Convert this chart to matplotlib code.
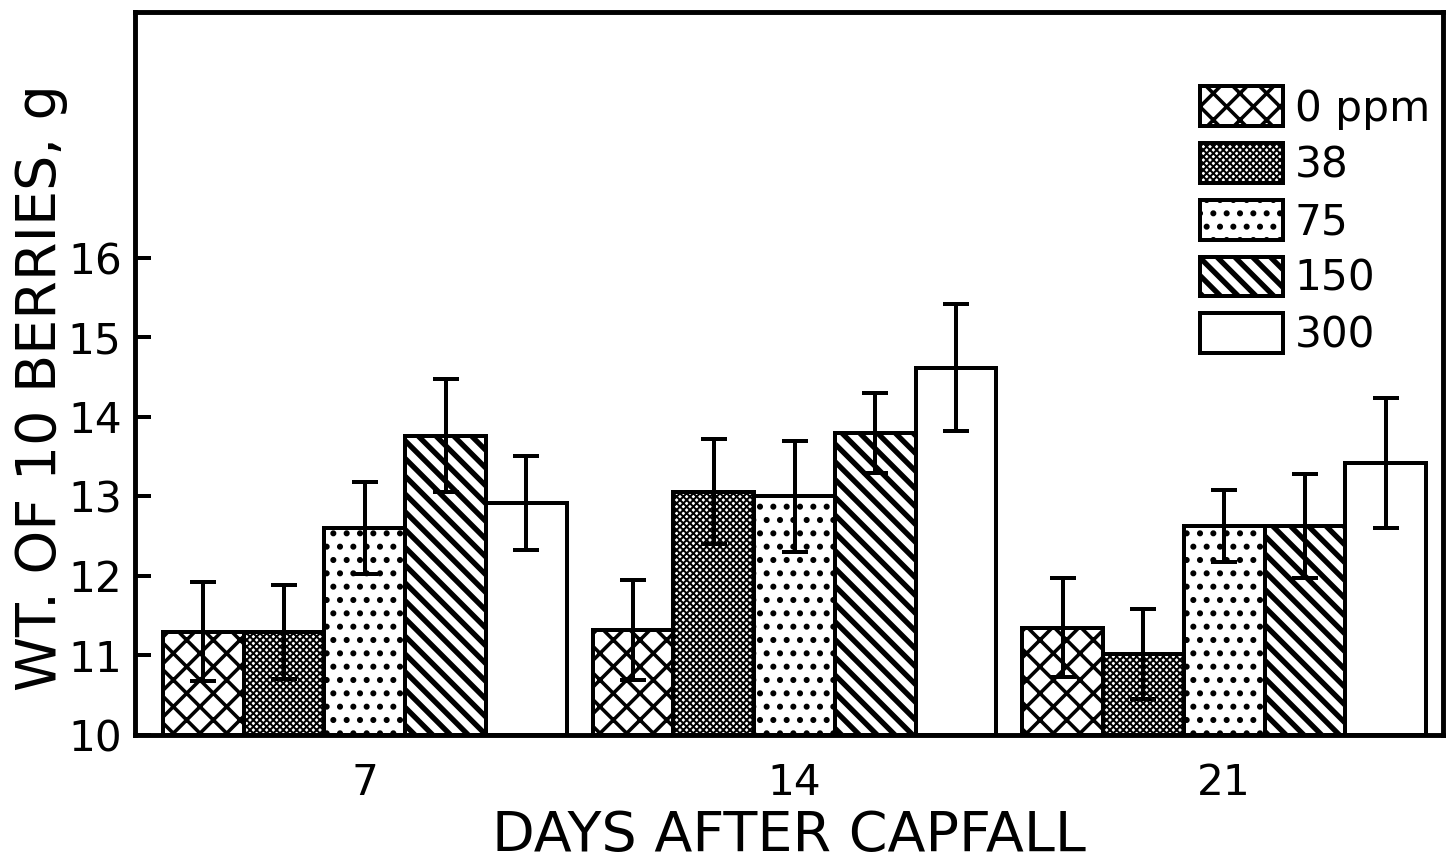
import numpy as np
import matplotlib.pyplot as plt

plt.rcParams['font.family'] = ['DejaVu Sans']

days = ['7', '14', '21']
conc_labels = ['0 ppm', '38', '75', '150', '300']
hatches = ['xx', 'xxxxxxxx', '..', '\\\\\\', '']
hatch_lw = [1.6, 0.9, 1.5, 2.4, 1.0]

# mean weight of 10 berries (g) and error, per concentration, for days 7/14/21
wt_0 = [11.30, 11.32, 11.35]
wt_38 = [11.30, 13.06, 11.02]
wt_75 = [12.60, 13.00, 12.63]
wt_150 = [13.76, 13.80, 12.63]
wt_300 = [12.92, 14.62, 13.42]

err_0 = [0.62, 0.63, 0.62]
err_38 = [0.59, 0.66, 0.57]
err_75 = [0.58, 0.70, 0.45]
err_150 = [0.71, 0.50, 0.65]
err_300 = [0.59, 0.80, 0.82]

series = [wt_0, wt_38, wt_75, wt_150, wt_300]
errors = [err_0, err_38, err_75, err_150, err_300]

fig = plt.figure(figsize=(9.1, 5.425), dpi=160)
ax = fig.add_axes([0.0927, 0.1532, 0.8983, 0.8330])

x = np.arange(len(days))
w = 0.188
base = 10

for i, (vals, err, lab, h) in enumerate(zip(series, errors, conc_labels, hatches)):
    vals = np.array(vals)
    pos = x + (i - 2) * w
    bars = ax.bar(pos, vals - base, bottom=base, width=w, color='white',
                  edgecolor='black', linewidth=1.8, hatch=h, label=lab, zorder=2)
    for b in bars:
        try:
            b.set_hatch_linewidth(hatch_lw[i])
        except AttributeError:
            pass
    ax.errorbar(pos, vals, yerr=err, fmt='none', ecolor='black', elinewidth=1.8,
                capsize=6, capthick=1.8, zorder=3)

ax.set_xlim(-0.535, 2.509)
ax.set_ylim(10, 19.09)
ax.set_yticks(range(10, 17))
ax.set_xticks(x)
ax.set_xticklabels(days)

for s in ax.spines.values():
    s.set_linewidth(2.2)

ax.tick_params(axis='y', direction='in', length=7, width=1.8, labelsize=19, pad=6)
ax.tick_params(axis='x', length=0, labelsize=19, pad=12)

ax.set_xlabel('DAYS AFTER CAPFALL', fontsize=25, labelpad=2.5)
ax.set_ylabel('WT. OF 10 BERRIES, g', fontsize=25, labelpad=0)
ax.yaxis.label.set_y(0.48)

leg = ax.legend(loc='upper left', bbox_to_anchor=(0.814, 0.897), frameon=False,
                fontsize=19, handlelength=1.97, handleheight=1.07, labelspacing=0.32,
                handletextpad=0.28, borderpad=0, borderaxespad=0)
for i, p in enumerate(leg.get_patches()):
    try:
        p.set_hatch_linewidth(hatch_lw[i])
    except AttributeError:
        pass

fig.savefig('out.png', dpi=160)
